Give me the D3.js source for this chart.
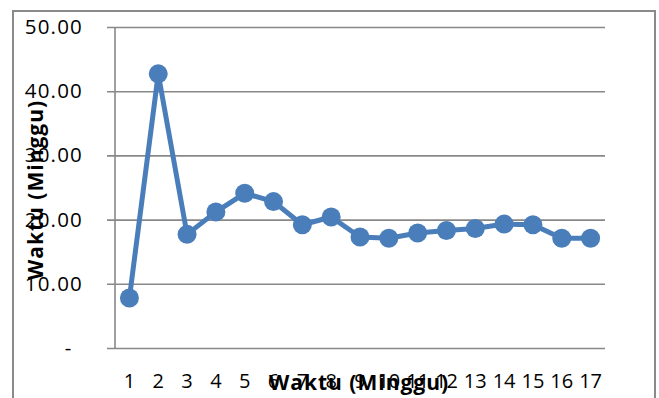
<!DOCTYPE html>
<html>
<head>
<meta charset="utf-8">
<script src="https://cdn.jsdelivr.net/npm/d3@7"></script>
<style>
  html, body { margin: 0; padding: 0; background: #fff; }
  svg { display: block; }
  .tick text { font-family: "Open Sans", "Noto Sans", sans-serif; }
</style>
</head>
<body>
<svg id="chart" width="659" height="398"></svg>
<script>
// Weeks on the category axis
const weeks = ["1","2","3","4","5","6","7","8","9","10","11","12","13","14","15","16","17"];
// Time values per week
const waktu = [7.8, 42.7, 17.7, 21.2, 24.1, 22.8, 19.2, 20.4, 17.3, 17.1, 17.9, 18.3, 18.6, 19.3, 19.2, 17.1, 17.1];
// Value-axis ticks and their labels
const yTicks = [0, 10, 20, 30, 40, 50];
const yTickLabels = ["-", "10.00", "20.00", "30.00", "40.00", "50.00"];
const xTitle = "Waktu (Minggu)";
const yTitle = "Waktu (Minggu)";

const svg = d3.select("#chart");
const plot = { left: 115, right: 605, top: 27, bottom: 348 };
const gridColor = "#888888";
const lineColor = "#4a7ebb";

// Outer chart frame
svg.append("rect")
  .attr("x", 13).attr("y", 11)
  .attr("width", 642).attr("height", 400)
  .attr("fill", "#fff")
  .attr("stroke", "#8a8a8a")
  .attr("stroke-width", 2);

const x = d3.scaleBand().domain(weeks).range([plot.left, plot.right]);
const y = d3.scaleLinear().domain([0, 50]).range([plot.bottom, plot.top]);

// Horizontal gridlines + value axis labels
const yAxis = d3.axisLeft(y)
  .tickValues(yTicks)
  .tickFormat((d, i) => yTickLabels[i])
  .tickSize(0);

const gy = svg.append("g")
  .attr("transform", `translate(${plot.right},0)`)
  .call(yAxis);
gy.select(".domain").remove();
gy.selectAll(".tick line")
  .attr("x1", 0)
  .attr("x2", -(plot.right - plot.left) - 8)
  .attr("stroke", gridColor)
  .attr("stroke-width", 1.6);
gy.selectAll(".tick text")
  .attr("x", -(plot.right - 83))
  .attr("text-anchor", "end")
  .attr("font-size", 20.5)
  .attr("letter-spacing", 1.2)
  .attr("fill", "#000")
  .filter(d => d === 0)
  .attr("x", -(plot.right - 68))
  .attr("text-anchor", "middle")
  .attr("letter-spacing", 0);

// Vertical value-axis line
svg.append("line")
  .attr("x1", plot.left).attr("x2", plot.left)
  .attr("y1", y(50)).attr("y2", y(0))
  .attr("stroke", gridColor).attr("stroke-width", 1.6);

// Category axis
const xAxis = d3.axisBottom(x).tickSize(0).tickPadding(26);
const gx = svg.append("g")
  .attr("transform", `translate(0,${plot.bottom})`)
  .call(xAxis);
gx.select(".domain").remove();
gx.selectAll(".tick text")
  .attr("font-size", 20)
  .attr("fill", "#000");

// Series line and markers
const cx = d => x(d) + x.bandwidth() / 2;
const line = d3.line()
  .x((d, i) => cx(weeks[i]))
  .y(d => y(d));

svg.append("path")
  .datum(waktu)
  .attr("d", line)
  .attr("fill", "none")
  .attr("stroke", lineColor)
  .attr("stroke-width", 5)
  .attr("stroke-linejoin", "round");

svg.selectAll("circle.pt")
  .data(waktu)
  .join("circle")
  .attr("class", "pt")
  .attr("cx", (d, i) => cx(weeks[i]))
  .attr("cy", d => y(d))
  .attr("r", 9.5)
  .attr("fill", lineColor);

// Axis titles
svg.append("text")
  .attr("x", 359).attr("y", 390)
  .attr("text-anchor", "middle")
  .attr("font-family", "'Open Sans', sans-serif")
  .attr("font-weight", "bold")
  .attr("font-size", 21)
  .attr("letter-spacing", 1)
  .attr("fill", "#000")
  .text(xTitle);

svg.append("text")
  .attr("transform", "translate(43,190) rotate(-90)")
  .attr("text-anchor", "middle")
  .attr("font-family", "'Open Sans', sans-serif")
  .attr("font-weight", "bold")
  .attr("font-size", 21)
  .attr("letter-spacing", 1)
  .attr("fill", "#000")
  .text(yTitle);
</script>
</body>
</html>
